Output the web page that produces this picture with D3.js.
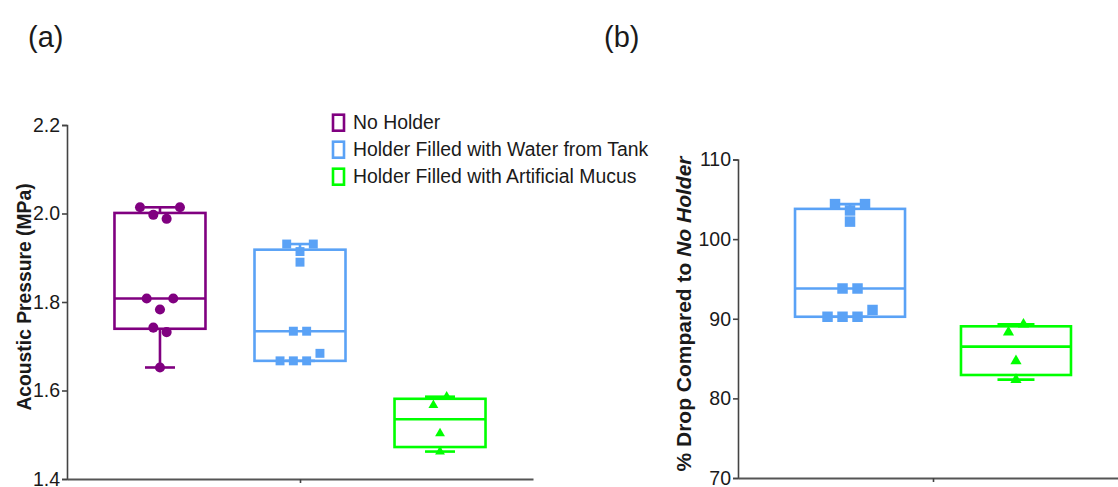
<!DOCTYPE html>
<html>
<head>
<meta charset="utf-8">
<script src="https://cdn.jsdelivr.net/npm/d3@7"></script>
<style>
  body { margin: 0; background: #fff; }
  svg { display: block; }
  text { font-family: "Liberation Sans", Arial, sans-serif; fill: #1a1a1a; }
</style>
</head>
<body>
<svg id="chart" width="1118" height="487"></svg>
<script>
// ---- data ---------------------------------------------------------------
const groups = ["No Holder", "Holder Filled with Water from Tank", "Holder Filled with Artificial Mucus"];
const groupColors = ["#800080", "#5aa2f6", "#00ff00"];

// (a) acoustic pressure, MPa
const pressureNoHolder = [2.014, 1.997, 1.988, 2.014, 1.808, 1.783, 1.808, 1.742, 1.732, 1.652];
const pressureWater    = [1.931, 1.914, 1.931, 1.890, 1.734, 1.734, 1.667, 1.667, 1.667, 1.684];
const pressureMucus    = [1.567, 1.586, 1.503, 1.462];
const pressureTicks    = [1.4, 1.6, 1.8, 2.0, 2.2];

// (b) percent of the no-holder pressure
const dropWater = [104.4, 103.6, 104.4, 102.2, 93.8, 93.8, 90.25, 90.25, 90.25, 91.1];
const dropMucus = [88.3, 89.3, 84.7, 82.35];
const dropTicks = [70, 80, 90, 100, 110];

const symbolTypes = [d3.symbolCircle, d3.symbolSquare, d3.symbolTriangle];

// ---- helpers -------------------------------------------------------------
// percentile using the (n+1)p rule
function quantile(sorted, p) {
  const n = sorted.length, h = (n + 1) * p;
  if (h <= 1) return sorted[0];
  if (h >= n) return sorted[n - 1];
  const lo = Math.floor(h);
  return sorted[lo - 1] + (h - lo) * (sorted[lo] - sorted[lo - 1]);
}

// group points that sit close vertically into rows and spread each row
// symmetrically around the category centre
function rowOffsets(values, y, slot, rowGap) {
  const order = d3.range(values.length).sort((a, b) => values[b] - values[a] || a - b);
  const rows = [];
  order.forEach(i => {
    const row = rows[rows.length - 1];
    if (row && Math.abs(y(values[i]) - y(values[row[0]])) < rowGap) row.push(i);
    else rows.push([i]);
  });
  const off = new Array(values.length).fill(0);
  rows.forEach(row => {
    row.sort((a, b) => a - b);
    row.forEach((idx, k) => { off[idx] = (k - (row.length - 1) / 2) * slot; });
  });
  return off;
}

const svg = d3.select("#chart");

function drawPanel(cfg) {
  const g = svg.append("g");
  const y = d3.scaleLinear().domain(cfg.domain).range([cfg.bottom, cfg.top]);
  const x = d3.scalePoint().domain(cfg.series.map(s => s.name)).range([cfg.left, cfg.right]).padding(cfg.pad);

  // boxes, whiskers and points
  cfg.series.forEach(s => {
    const sorted = s.values.slice().sort(d3.ascending);
    const q1 = quantile(sorted, 0.25), med = quantile(sorted, 0.5), q3 = quantile(sorted, 0.75);
    const lo = sorted[0], hi = sorted[sorted.length - 1];
    const cx = x(s.name);
    const sg = g.append("g").attr("stroke", s.color).attr("stroke-width", 2.6).attr("fill", "none");

    sg.append("line").attr("x1", cx).attr("x2", cx).attr("y1", y(q3)).attr("y2", y(hi));
    sg.append("line").attr("x1", cx).attr("x2", cx).attr("y1", y(q1)).attr("y2", y(lo));
    [hi, lo].forEach(v => sg.append("line")
      .attr("x1", cx - cfg.capW / 2).attr("x2", cx + cfg.capW / 2)
      .attr("y1", y(v)).attr("y2", y(v)));
    sg.append("rect").attr("x", cx - cfg.boxW / 2).attr("width", cfg.boxW)
      .attr("y", y(q3)).attr("height", y(q1) - y(q3));
    sg.append("line").attr("x1", cx - cfg.boxW / 2).attr("x2", cx + cfg.boxW / 2)
      .attr("y1", y(med)).attr("y2", y(med));

    const off = rowOffsets(s.values, y, cfg.slot, cfg.rowGap);
    const sym = d3.symbol().type(s.symbol).size(s.symbol === d3.symbolTriangle ? cfg.triSize : cfg.markSize);
    g.append("g").selectAll("path").data(s.values).join("path")
      .attr("d", sym)
      .attr("fill", s.color)
      .attr("transform", (d, i) => `translate(${cx + off[i]},${y(d)})`);
  });

  // y axis
  const ya = g.append("g").attr("transform", `translate(${cfg.left},0)`)
    .call(d3.axisLeft(y).tickValues(cfg.ticks).tickFormat(cfg.fmt).tickSize(5).tickPadding(2));
  ya.select(".domain").attr("stroke", "#444").attr("stroke-width", 1.6);
  ya.selectAll(".tick line").attr("stroke", "#444").attr("stroke-width", 1.6);
  ya.selectAll(".tick text").attr("font-size", 19.5).attr("font-family", "Liberation Sans, Arial, sans-serif").attr("fill", "#1a1a1a");

  // x axis: plain baseline with a single centre tick
  const xs = d3.scaleLinear().domain([0, 1]).range([cfg.left, cfg.right]);
  const xa = g.append("g").attr("transform", `translate(0,${cfg.bottom})`)
    .call(d3.axisBottom(xs).tickValues([0.5]).tickFormat("").tickSizeInner(4).tickSizeOuter(0));
  xa.select(".domain").attr("stroke", "#555").attr("stroke-width", 1.8);
  xa.selectAll(".tick line").attr("stroke", "#444").attr("stroke-width", 1.6);

  // y title
  const t = g.append("text")
    .attr("transform", `translate(${cfg.titleX},${cfg.titleY}) rotate(-90)`)
    .attr("text-anchor", "middle").attr("font-weight", "bold").attr("font-size", cfg.titleSize);
  cfg.title.forEach(part => t.append("tspan").attr("font-style", part.italic ? "italic" : null).text(part.text));

  // panel letter
  g.append("text").attr("x", cfg.letterX).attr("y", 47)
    .attr("font-family", "Noto Sans, sans-serif").attr("font-size", 29).text(cfg.letter);
}

drawPanel({
  letter: "(a)", letterX: 28,
  domain: [1.4, 2.2], ticks: pressureTicks, fmt: d3.format(".1f"),
  left: 67, right: 533, top: 125, bottom: 479, pad: 0.664,
  boxW: 91, capW: 30, slot: 13.3, rowGap: 14, markSize: 80, triSize: 42,
  titleX: 31, titleY: 297, titleSize: 19.3,
  title: [{ text: "Acoustic Pressure (MPa)" }],
  series: [
    { name: groups[0], values: pressureNoHolder, color: groupColors[0], symbol: symbolTypes[0] },
    { name: groups[1], values: pressureWater,    color: groupColors[1], symbol: symbolTypes[1] },
    { name: groups[2], values: pressureMucus,    color: groupColors[2], symbol: symbolTypes[2] }
  ]
});

drawPanel({
  letter: "(b)", letterX: 604,
  domain: [70, 110], ticks: dropTicks, fmt: d3.format("d"),
  left: 738, right: 1128, top: 159.5, bottom: 478, pad: 0.675,
  boxW: 110, capW: 37, slot: 15, rowGap: 14, markSize: 110, triSize: 54,
  titleX: 691, titleY: 314, titleSize: 21,
  title: [{ text: "% Drop Compared to " }, { text: "No Holder", italic: true }],
  series: [
    { name: groups[1], values: dropWater, color: groupColors[1], symbol: symbolTypes[1] },
    { name: groups[2], values: dropMucus, color: groupColors[2], symbol: symbolTypes[2] }
  ]
});

// legend
const legend = svg.append("g").attr("transform", "translate(332,0)");
const legendRows = legend.selectAll("g").data(groups).join("g")
  .attr("transform", (d, i) => `translate(0,${122.7 + i * 27})`);
legendRows.append("rect").attr("x", 1).attr("y", -8).attr("width", 11).attr("height", 16)
  .attr("fill", "none").attr("stroke-width", 2.6).attr("stroke", (d, i) => groupColors[i]);
legendRows.append("text").attr("x", 21).attr("y", 6.5).attr("font-size", 19.4).text(d => d);
</script>
</body>
</html>
